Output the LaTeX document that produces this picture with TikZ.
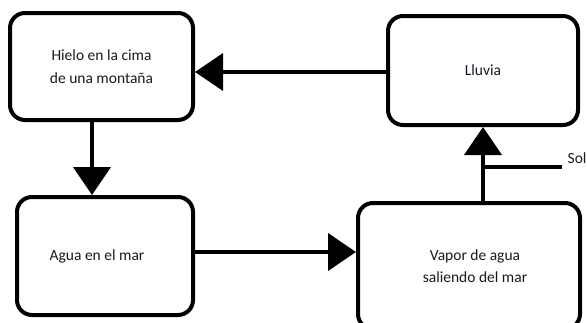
\documentclass[tikz,border=0pt]{standalone}
\usepackage{fontspec}
\setmainfont{Carlito}
\usetikzlibrary{arrows.meta}
\definecolor{txt}{RGB}{25,25,35}
\tikzset{
  box/.style={draw=black, line width=4pt, rounded corners=15pt, fill=white,
    align=center, text=txt, inner sep=0pt,
    font=\fontsize{15.5}{22.5}\selectfont},
  arr/.style={line width=4pt, -{Triangle[length=28pt,width=37pt]}},
  plain/.style={line width=4pt},
  lbl/.style={text=txt, font=\fontsize{15.5}{22.5}\selectfont, inner sep=0pt, anchor=west}
}
\begin{document}
\begin{tikzpicture}[x=1pt,y=1pt]
\useasboundingbox (0,0) rectangle (587,-322);
\clip (0,0) rectangle (587,-322);
\node[box, minimum width=183pt, minimum height=107pt] (hielo) at (101.5,-66.5) {Hielo en la cima\\de una montaña};
\node[box, minimum width=190pt, minimum height=109pt] (lluvia) at (483,-70.5) {Lluvia};
\node[box, minimum width=176pt, minimum height=118pt] (agua) at (105,-256) {\hspace*{-16pt}Agua en el mar};
\node[box, minimum width=222pt, minimum height=126pt] (vapor) at (469,-266) {\hspace*{12pt}Vapor de agua\\\hspace*{12pt}saliendo del mar};
\draw[arr] ([yshift=-1.5pt]lluvia.west) -- ([yshift=-1.5pt]hielo.east |- lluvia.west);
\draw[arr] ([xshift=-9.5pt]hielo.south) -- ([xshift=-9.5pt]hielo.south |- agua.north);
\draw[arr] ([yshift=4pt]agua.east) -- ([yshift=4pt]agua.east -| vapor.west);
\draw[arr] (vapor.north -| lluvia.south) -- (lluvia.south);
\coordinate (j) at (483,-167);
\coordinate (solend) at (562,-167);
\draw[plain] (j) -- (solend);
\node[lbl] (sol) at (567.5,-158) {Sol};
\end{tikzpicture}
\end{document}
